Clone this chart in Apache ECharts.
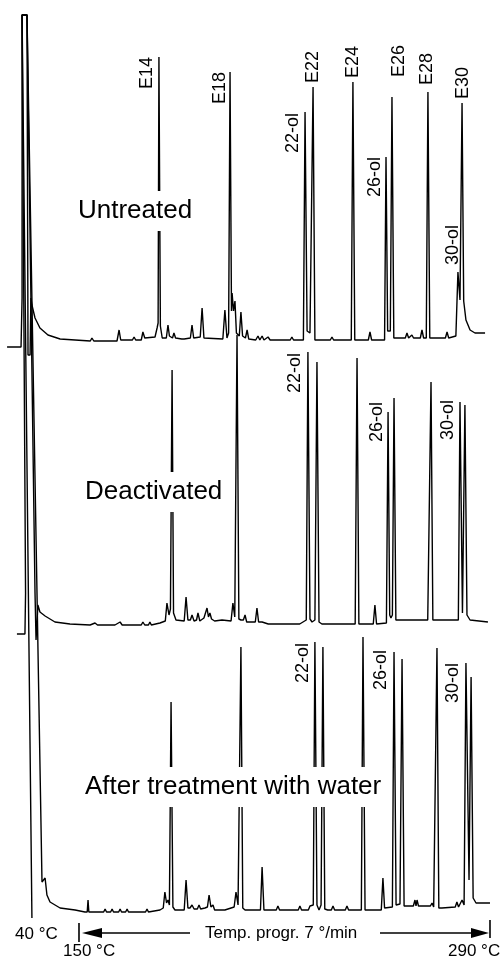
<!DOCTYPE html>
<html><head><meta charset="utf-8">
<script src="https://cdn.jsdelivr.net/npm/echarts@6/dist/echarts.min.js"></script>
<style>html,body{margin:0;padding:0;background:#fff}#c{width:503px;height:959px}</style>
</head><body><div id="c"></div>
<script>
// x: retention time in minutes (0 = start of 7 °C/min program at 150 °C, 20 = 290 °C)
// y: detector response above each trace's baseline (chart units)
const untreated = [[-3.50,-6],[-2.82,-6],[-2.77,43],[-2.77,326],[-2.53,326],[-2.48,-14],[-2.38,-14],[-2.34,43],[-2.29,36],[-2.14,23],[-1.90,13],[-1.51,6],[-0.92,2],[-0.19,1],[0.55,0],[0.63,3],[0.72,0],[1.85,0],[1.95,11],[2.03,1],[2.60,1],[2.68,4],[2.76,1],[3.03,1],[3.11,9],[3.20,3],[3.70,4],[3.80,13],[3.85,18],[3.89,284],[3.96,15],[4.05,3],[4.25,3],[4.33,16],[4.40,5],[4.55,3],[4.62,8],[4.70,3],[5.00,2],[5.06,4],[5.12,2],[5.42,3],[5.50,16],[5.58,3],[5.90,4],[5.99,33],[6.08,3],[7.00,2],[7.10,31],[7.20,3],[7.28,8],[7.35,269],[7.42,30],[7.45,48],[7.52,30],[7.59,40],[7.66,8],[7.80,5],[7.88,29],[7.96,5],[8.10,3],[8.18,11],[8.26,2],[8.60,1],[8.71,5],[8.80,1],[8.91,5],[9.00,1],[9.20,4],[9.30,1],[10.28,1],[10.36,4],[10.44,1],[10.92,1],[11.00,229],[11.10,10],[11.24,8],[11.32,10],[11.39,254],[11.48,1],[12.23,1],[12.31,4],[12.39,1],[13.25,1],[13.33,259],[13.42,1],[14.08,1],[14.16,9],[14.24,1],[14.87,1],[14.94,184],[15.02,10],[15.09,11],[15.15,10],[15.23,244],[15.32,3],[15.88,3],[15.96,8],[16.04,3],[16.13,3],[16.20,6],[16.28,3],[16.61,3],[16.69,11],[16.77,3],[16.90,3],[16.98,249],[17.07,3],[17.83,3],[17.91,9],[17.99,3],[18.34,5],[18.44,69],[18.54,41],[18.64,238],[18.72,40],[18.83,21],[19.03,11],[19.27,8],[19.76,8]];

const deactivated = [[-3.02,-9],[-2.63,-9],[-2.60,32],[-2.77,610],[-2.53,610],[-2.14,32],[-2.09,32],[-2.09,-15],[-2.00,-15],[-2.00,20],[-1.90,13],[-1.65,9],[-1.17,3],[-0.44,1],[0.54,0],[0.78,2],[0.90,0],[1.75,0],[2.00,3],[2.10,0],[2.55,0],[2.63,2],[2.72,0],[3.03,0],[3.11,3],[3.20,0],[3.38,0],[3.45,3],[3.52,0],[3.94,2],[4.20,4],[4.28,22],[4.38,10],[4.45,16],[4.53,255],[4.60,12],[4.72,5],[5.12,4],[5.21,28],[5.30,5],[5.42,5],[5.50,10],[5.60,4],[5.72,5],[5.79,12],[5.88,4],[6.08,7],[6.23,17],[6.30,8],[6.37,12],[6.45,6],[6.52,8],[6.60,4],[6.96,5],[7.40,4],[7.49,22],[7.58,8],[7.69,290],[7.78,6],[7.88,5],[8.00,5],[8.08,10],[8.16,3],[8.58,3],[8.66,17],[8.74,3],[8.91,3],[9.21,1],[9.29,2],[9.37,1],[10.58,1],[10.66,2],[10.74,1],[11.06,5],[11.14,273],[11.24,6],[11.34,3],[11.48,5],[11.58,263],[11.68,3],[11.82,1],[13.44,1],[13.53,267],[13.62,1],[14.32,1],[14.40,20],[14.48,1],[14.96,2],[15.04,213],[15.12,10],[15.18,7],[15.25,10],[15.33,227],[15.42,5],[16.03,5],[16.11,7],[16.19,5],[16.81,5],[16.89,7],[16.97,5],[17.05,5],[17.13,243],[17.22,5],[18.07,5],[18.15,7],[18.23,5],[18.46,5],[18.54,223],[18.66,12],[18.69,14],[18.78,220],[18.88,10],[19.03,5],[19.90,3]];

const afterWater = [[-2.29,-5],[-2.77,898],[-2.53,898],[-1.80,31],[-1.65,35],[-1.56,18],[-1.41,11],[-0.92,5],[-0.19,3],[0.29,1],[0.40,1],[0.44,13],[0.48,1],[1.20,1],[1.27,4],[1.34,1],[1.54,1],[1.61,4],[1.68,1],[1.93,1],[2.00,4],[2.07,1],[2.27,1],[2.34,4],[2.41,1],[3.24,1],[3.31,4],[3.38,1],[3.94,3],[4.10,5],[4.18,21],[4.26,10],[4.33,13],[4.40,8],[4.48,211],[4.57,6],[4.67,3],[5.12,3],[5.21,33],[5.30,5],[5.40,5],[5.50,8],[5.60,4],[5.76,4],[5.84,8],[5.92,4],[6.13,5],[6.25,6],[6.33,18],[6.42,6],[6.52,8],[6.60,3],[7.10,3],[7.55,6],[7.64,21],[7.74,8],[7.88,266],[7.97,5],[8.08,3],[8.83,3],[8.91,46],[9.00,3],[9.60,3],[9.68,7],[9.76,3],[10.27,3],[10.67,3],[10.75,7],[10.83,3],[11.16,3],[11.24,7],[11.40,8],[11.48,271],[11.58,8],[11.68,3],[11.78,8],[11.87,266],[11.96,4],[12.10,3],[12.28,3],[12.36,7],[12.44,3],[12.96,3],[13.04,7],[13.12,3],[13.74,3],[13.82,276],[13.92,3],[14.06,3],[14.71,3],[14.79,35],[14.87,5],[14.94,5],[15.25,6],[15.33,261],[15.43,8],[15.52,8],[15.62,9],[15.72,254],[15.82,7],[15.96,7],[16.27,7],[16.35,13],[16.40,7],[16.45,13],[16.52,7],[16.84,7],[17.10,7],[17.18,10],[17.26,6],[17.34,8],[17.42,265],[17.51,5],[17.66,5],[18.31,6],[18.39,11],[18.47,6],[18.56,7],[18.64,13],[18.74,8],[18.83,250],[18.98,33],[19.08,236],[19.18,15],[19.32,10],[20.00,10]];

const traceNames = ['Untreated', 'Deactivated', 'After treatment with water'];
const traces = [untreated, deactivated, afterWater];

// peak labels: [trace index, retention time, peak height, text]
const peakLabels = [
  [0, 3.89, 284, 'E14'], [0, 7.35, 269, 'E18'], [0, 11.39, 254, 'E22'], [0, 13.33, 259, 'E24'],
  [0, 15.23, 244, 'E26'], [0, 16.98, 249, 'E28'], [0, 18.64, 238, 'E30'],
  [0, 11.00, 229, '22-ol'], [0, 14.94, 184, '26-ol'], [0, 18.44, 69, '30-ol'],
  [1, 11.14, 273, '22-ol'], [1, 15.04, 213, '26-ol'], [1, 18.54, 223, '30-ol'],
  [2, 11.48, 271, '22-ol'], [2, 15.33, 261, '26-ol'], [2, 18.83, 250, '30-ol']
];
const tempLabels = ['40 °C', '150 °C', '290 °C'];
const programLabel = 'Temp. progr. 7 °/min';
const programStart = 0, programEnd = 20;

// ---- layout / style (not data) ----
const traceOffsets = [589, 305, 17];
// label placement: mode 'left' = beside the peak top, 'above' = over the peak; dx, dy in px
const labelLayout = [
  ['left', -12, 0], ['left', -10.5, 0], ['above', 0, 4], ['above', 0, 4],
  ['above', 7, 20], ['above', -1, 7], ['above', 1, 4],
  ['left', -12, 1], ['left', -11, 0], ['above', -4.5, 7],
  ['left', -12.5, 1], ['left', -11.5, -10], ['left', -11.5, -2],
  ['left', -11.5, 1], ['left', -12.5, -2], ['left', -12.5, 0]
];
const nameLayout = [[75, 211], [82, 492], [82, 787]];
const FONT = '"Liberation Sans", Arial, Helvetica, sans-serif';

const chart = echarts.init(document.getElementById('c'), null, {renderer: 'canvas'});
chart.setOption({
  animation: false,
  backgroundColor: '#fff',
  grid: {left: 0, right: 0, top: 0, bottom: 29},
  xAxis: {type: 'value', min: -3.844, max: 20.633, show: false},
  yAxis: {type: 'value', min: 0, max: 930, show: false},
  series: traces.map((tr, i) => ({
    type: 'line',
    data: tr.map(p => [p[0], p[1] + traceOffsets[i]]),
    symbol: 'none',
    clip: false,
    lineStyle: {color: '#000', width: 1.4},
    z: 2
  }))
});

const px = (t, v) => chart.convertToPixel({xAxisIndex: 0, yAxisIndex: 0}, [t, v]);
const g = [];
peakLabels.forEach((L, k) => {
  const [ti, t, h, txt] = L;
  const [mode, dx, dy] = labelLayout[k];
  const p = px(t, h + traceOffsets[ti]);
  g.push({
    type: 'text', z: 110,
    x: p[0] + dx, y: mode === 'left' ? p[1] + dy : p[1] - dy,
    rotation: Math.PI / 2,
    style: {text: txt, font: '18px ' + FONT, fill: '#000',
            align: mode === 'left' ? 'right' : 'left', verticalAlign: 'middle'}
  });
});
traceNames.forEach((n, i) => {
  g.push({
    type: 'text', z: 120, x: nameLayout[i][0], y: nameLayout[i][1],
    style: {text: n, font: '26px ' + FONT, fill: '#000', backgroundColor: '#fff',
            padding: [7, 3], align: 'left', verticalAlign: 'middle'}
  });
});
const p0 = px(programStart, 0)[0];
const p1 = px(programEnd, 0)[0];
const ay = 933;
g.push(
  {type: 'text', z: 110, x: 15, y: 934, style: {text: tempLabels[0], font: '17px ' + FONT, fill: '#000', align: 'left', verticalAlign: 'middle'}},
  {type: 'text', z: 110, x: 63, y: 951, style: {text: tempLabels[1], font: '17px ' + FONT, fill: '#000', align: 'left', verticalAlign: 'middle'}},
  {type: 'text', z: 110, x: 448, y: 951, style: {text: tempLabels[2], font: '17px ' + FONT, fill: '#000', align: 'left', verticalAlign: 'middle'}},
  {type: 'text', z: 110, x: 205, y: ay, style: {text: programLabel, font: '17px ' + FONT, fill: '#000', align: 'left', verticalAlign: 'middle'}},
  {type: 'line', z: 110, shape: {x1: p0, y1: 923, x2: p0, y2: 942}, style: {stroke: '#000', lineWidth: 1.6}},
  {type: 'line', z: 110, shape: {x1: p1, y1: 920, x2: p1, y2: 938}, style: {stroke: '#000', lineWidth: 1.6}},
  {type: 'line', z: 110, shape: {x1: p0 + 18, y1: ay, x2: 190, y2: ay}, style: {stroke: '#000', lineWidth: 1.4}},
  {type: 'polygon', z: 110, shape: {points: [[p0 + 3, ay], [p0 + 23, ay - 5], [p0 + 23, ay + 5]]}, style: {fill: '#000'}},
  {type: 'line', z: 110, shape: {x1: 380, y1: ay, x2: p1 - 16, y2: ay}, style: {stroke: '#000', lineWidth: 1.4}},
  {type: 'polygon', z: 110, shape: {points: [[p1 - 1, ay], [p1 - 19, ay - 5], [p1 - 19, ay + 5]]}, style: {fill: '#000'}}
);
chart.setOption({graphic: g});
</script></body></html>
